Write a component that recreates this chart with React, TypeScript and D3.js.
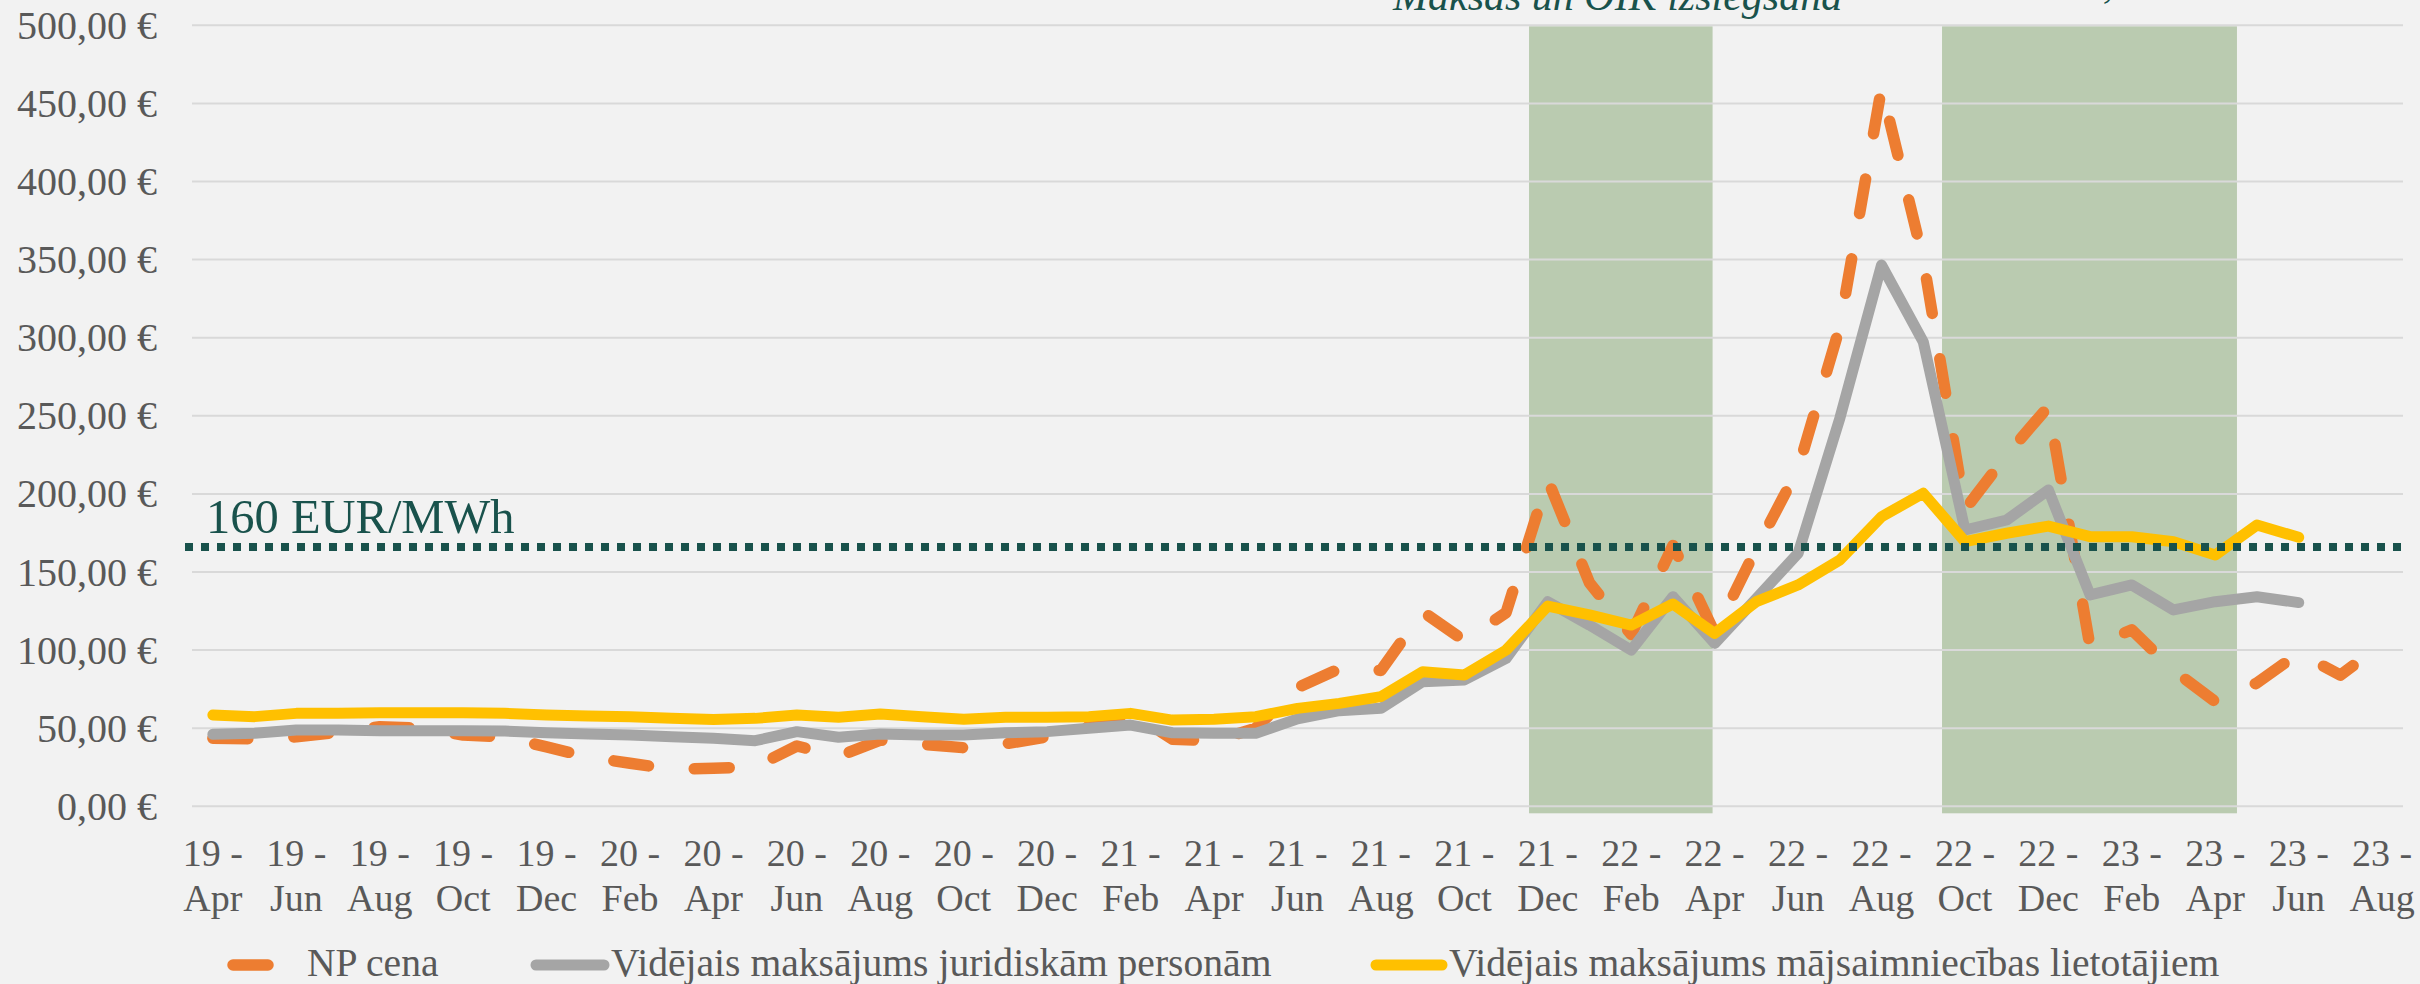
import React from 'react';
import * as d3 from 'd3';

// monthly categories, Apr 2019 .. Aug 2023
const months = [
  '19 - Apr', '19 - May', '19 - Jun', '19 - Jul', '19 - Aug', '19 - Sep', '19 - Oct', '19 - Nov', '19 - Dec',
  '20 - Jan', '20 - Feb', '20 - Mar', '20 - Apr', '20 - May', '20 - Jun', '20 - Jul', '20 - Aug', '20 - Sep',
  '20 - Oct', '20 - Nov', '20 - Dec', '21 - Jan', '21 - Feb', '21 - Mar', '21 - Apr', '21 - May', '21 - Jun',
  '21 - Jul', '21 - Aug', '21 - Sep', '21 - Oct', '21 - Nov', '21 - Dec', '22 - Jan', '22 - Feb', '22 - Mar',
  '22 - Apr', '22 - May', '22 - Jun', '22 - Jul', '22 - Aug', '22 - Sep', '22 - Oct', '22 - Nov', '22 - Dec',
  '23 - Jan', '23 - Feb', '23 - Mar', '23 - Apr', '23 - May', '23 - Jun', '23 - Jul', '23 - Aug',
];

// NP cena (EUR/MWh)
const npPrice = [
  43.5, 43.2, 44.5, 47.5, 51, 50, 45.6, 44.5, 38, 31.5,
  27.6, 23.7, 24.3, 25.2, 38.6, 32, 42.4, 39.7, 37.5, 40,
  44.5, 51, 60, 43, 42, 50, 76, 88, 87, 124.6,
  106, 124, 209, 143, 110, 167, 111, 165, 216, 307,
  460, 350, 190, 225, 256, 102, 113, 87, 67, 79,
  98, 84, 104,
];

// Vidējais maksājums juridiskām personām
const legalAvg: (number | null)[] = [
  46.1, 46.7, 48.8, 48.8, 48.4, 48.4, 48.4, 48.2, 47.1, 46.3,
  45.6, 44.6, 43.5, 42, 47.8, 44.2, 46.3, 45.6, 45.6, 47.1,
  47.8, 49.9, 52, 47.1, 46.7, 46.7, 56, 61.2, 62.7, 79.8,
  80.9, 94.7, 131, 116, 100, 134.2, 104.3, 133, 162, 248.4,
  346.5, 297.4, 176.9, 183.3, 202.5, 135.3, 141.7, 125.7, 131, 134.2,
  130.4, null, null,
];

// Vidējais maksājums mājsaimniecības lietotājiem
const householdAvg: (number | null)[] = [
  58.4, 57.4, 59.5, 59.5, 59.9, 59.9, 59.9, 59.5, 58.4, 57.8,
  57.4, 56.3, 55.5, 56.3, 58.4, 57, 59.1, 57.4, 55.7, 57,
  57, 57.4, 59.5, 55.2, 55.7, 57.4, 62.7, 65.9, 70.2, 86.2,
  84, 100, 128.2, 122.5, 116, 129.5, 110.7, 131, 141.7, 157.7,
  185.4, 200.4, 169.4, 174.8, 179.4, 172.6, 172.6, 169.4, 160.9, 180.1,
  172.2, null, null,
];

const yTicks = [0, 50, 100, 150, 200, 250, 300, 350, 400, 450, 500];
const thresholdValue = 166;
const thresholdLabel = '160 EUR/MWh';
// shaded periods, in category index units (fractional edges)
const shadedPeriods = [
  [31.55, 35.95],
  [41.45, 48.52],
];
const annotation = 'Maksās un OIK izslēgšana';

const W = 2420;
const H = 984;
const left = 192;
const right = 2403;
const top = 25.3;
const bottom = 806.3;

const FONT = '"Liberation Serif", "DejaVu Serif", serif';
const TEAL = '#19524c';
const TICK = '#595959';

const App: React.FC = () => {
  const xi = d3.scaleLinear().domain([-0.5, months.length - 0.5]).range([left, right]);
  const y = d3.scaleLinear().domain([0, 500]).range([bottom, top]);

  const line = d3
    .line<number | null>()
    .defined((d) => d != null)
    .x((_, i) => xi(i))
    .y((d) => y(d as number));

  const fmt = (v: number) => `${v.toFixed(2).replace('.', ',')} €`;

  return (
    <div style={{ position: 'absolute', left: 0, top: 0 }}>
      <svg width={W} height={H} style={{ display: 'block' }} fontFamily={FONT}>
        <rect width={W} height={H} fill="#f2f2f2" />

        {shadedPeriods.map(([a, b], k) => (
          <rect key={k} x={xi(a)} y={top + 1} width={xi(b) - xi(a)} height={bottom + 7 - top - 1} fill="#bacbb0" />
        ))}

        {yTicks.map((t) => (
          <g key={t}>
            <line x1={left} x2={right} y1={y(t)} y2={y(t)} stroke="#d9d9d9" strokeWidth={2} />
            <text x={157} y={y(t) + 13.5} textAnchor="end" fontSize={40} fill={TICK}>
              {fmt(t)}
            </text>
          </g>
        ))}

        {months.map((m, i) => {
          if (i % 2 !== 0) return null;
          const [yy, mon] = m.split(' - ');
          return (
            <text key={m} x={xi(i)} textAnchor="middle" fontSize={38} fill={TICK}>
              <tspan x={xi(i)} y={866}>{`${yy} -`}</tspan>
              <tspan x={xi(i)} y={911}>{mon}</tspan>
            </text>
          );
        })}

        <path
          d={line(npPrice) || ''}
          fill="none"
          stroke="#ed7d31"
          strokeWidth={11.5}
          strokeDasharray="35 46"
          strokeLinecap="round"
          strokeLinejoin="round"
        />
        <path d={line(legalAvg) || ''} fill="none" stroke="#a5a5a5" strokeWidth={11} strokeLinecap="round" strokeLinejoin="round" />
        <path d={line(householdAvg) || ''} fill="none" stroke="#ffc000" strokeWidth={11} strokeLinecap="round" strokeLinejoin="round" />

        <line
          x1={185}
          x2={right}
          y1={y(thresholdValue)}
          y2={y(thresholdValue)}
          stroke={TEAL}
          strokeWidth={8}
          strokeDasharray="8 8"
        />
        <text x={206} y={533} fontSize={48.5} fill={TEAL}>
          {thresholdLabel}
        </text>

        <text x={1393} y={9.5} fontSize={42} fontStyle="italic" fill={TEAL}>
          {annotation}
        </text>
        <text x={2103} y={-3} fontSize={42} fontStyle="italic" fill={TEAL}>
          ,
        </text>

        {/* legend */}
        <g fontSize={39.6} fill={TICK}>
          <line x1={233} x2={301} y1={965} y2={965} stroke="#ed7d31" strokeWidth={11.5} strokeDasharray="35 46" strokeLinecap="round" />
          <text x={307} y={975.5}>NP cena</text>
          <line x1={536} x2={604} y1={965} y2={965} stroke="#a5a5a5" strokeWidth={11} strokeLinecap="round" />
          <text x={611} y={975.5}>Vidējais maksājums juridiskām personām</text>
          <line x1={1376} x2={1442} y1={965} y2={965} stroke="#ffc000" strokeWidth={11} strokeLinecap="round" />
          <text x={1449} y={975.5}>Vidējais maksājums mājsaimniecības lietotājiem</text>
        </g>
      </svg>
    </div>
  );
};

export default App;
